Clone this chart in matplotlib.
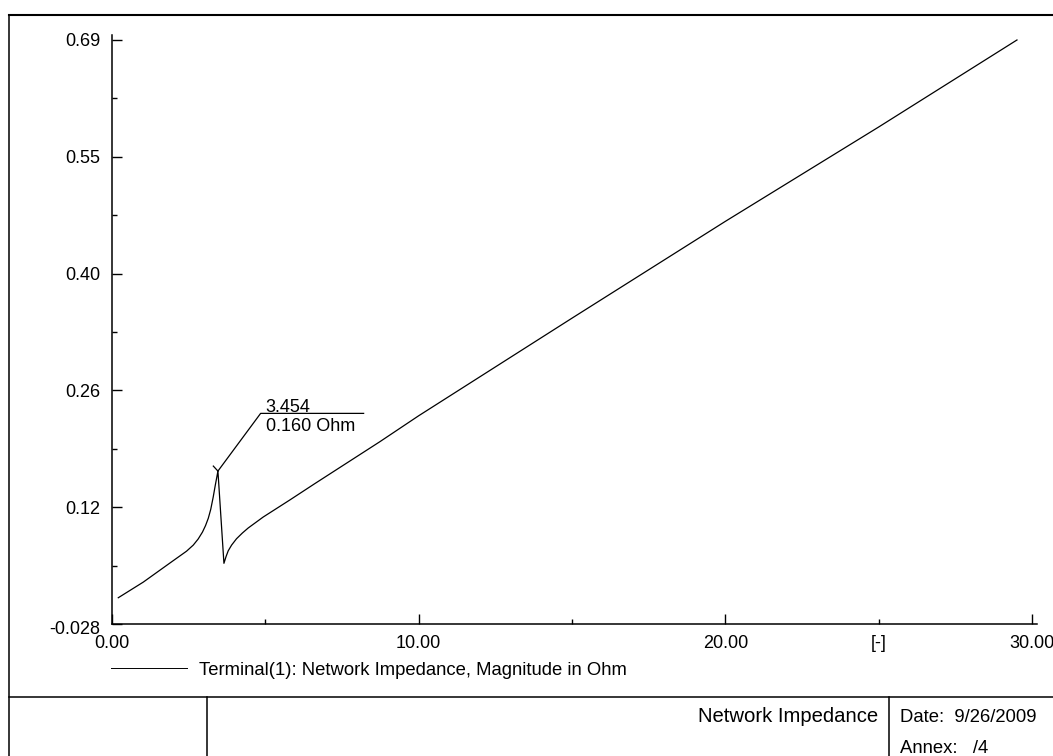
import numpy as np
import matplotlib
matplotlib.use("Agg")
import matplotlib.pyplot as plt
from matplotlib.ticker import FixedLocator, FixedFormatter
from matplotlib.transforms import ScaledTranslation

plt.rcParams['font.family'] = ['Liberation Sans', 'DejaVu Sans']
plt.rcParams['font.size'] = 13

# Harmonic order vs. network impedance magnitude (Ohm)
order = [0.205, 1.02, 1.89, 2.43, 2.65, 2.81, 2.95, 3.05, 3.14, 3.22,
         3.30, 3.37, 3.42, 3.454, 3.65, 3.72, 3.79, 3.90, 4.06, 4.25,
         4.44, 4.93, 5.80, 6.61, 8.73, 10.0, 15.0, 20.0, 25.0, 29.51]
impedance = [0.0043, 0.0235, 0.047, 0.0615, 0.069, 0.0765, 0.085, 0.093, 0.102, 0.113,
             0.128, 0.143, 0.153, 0.160, 0.0466, 0.055, 0.062, 0.069, 0.0768, 0.0838,
             0.0900, 0.1035, 0.1245, 0.1445, 0.196, 0.228, 0.348, 0.467, 0.583, 0.69]

y_tick_values = [-0.028, 0.1156, 0.2592, 0.4028, 0.5464, 0.69]
y_tick_labels = ['-0.028', '0.12', '0.26', '0.40', '0.55', '0.69']
x_tick_values = [0, 10, 20, 30]
x_tick_labels = ['0.00', '10.00', '20.00', '30.00']
x_minor_values = [5, 15, 25]
x_minor_labels = ['', '', '[-]']

peak_order = 3.454
peak_value = 0.160
peak_labels = ['3.454', '0.160 Ohm']
legend_label = 'Terminal(1): Network Impedance, Magnitude in Ohm'
title_text = 'Network Impedance'
date_text = 'Date:  9/26/2009'
annex_text = 'Annex:   /4'

W, H = 1053, 756
fig = plt.figure(figsize=(W / 100, H / 100), dpi=100)

# page frame and title block, in pixel coordinates
bg = fig.add_axes([0, 0, 1, 1], zorder=0)
bg.set_xlim(0, W)
bg.set_ylim(H, 0)
bg.axis('off')
bg.plot([9, W], [15, 15], color='black', lw=1.5)
bg.plot([9, 9], [15, H], color='black', lw=1.1)
bg.plot([9, W], [697, 697], color='black', lw=1.1)
bg.plot([206.5, 206.5], [697, H], color='black', lw=1.1)
bg.plot([889, 889], [697, H], color='black', lw=1.1)
bg.text(878, 721.7, title_text, ha='right', va='baseline', fontsize=14.6)
bg.text(900, 721.5, date_text, ha='left', va='baseline', fontsize=13.3)
bg.text(900, 753.3, annex_text, ha='left', va='baseline', fontsize=13.3)

# legend entry
bg.plot([111, 187], [668, 668], color='black', lw=0.7)
bg.text(199, 675, legend_label, ha='left', va='baseline', fontsize=13.3)

# plot area
ax = fig.add_axes([112 / W, (H - 624) / H, 924.6 / W, 588.9 / H], zorder=1)
ax.patch.set_alpha(0)
ax.plot(order, impedance, color='black', lw=0.9)
ax.set_xlim(0, 30.15)
ax.set_ylim(-0.028, 0.696)

for s in ['top', 'right']:
    ax.spines[s].set_visible(False)
for s in ['left', 'bottom']:
    ax.spines[s].set_linewidth(1.1)

ax.xaxis.set_major_locator(FixedLocator(x_tick_values))
ax.xaxis.set_major_formatter(FixedFormatter(x_tick_labels))
ax.xaxis.set_minor_locator(FixedLocator(x_minor_values))
ax.xaxis.set_minor_formatter(FixedFormatter(x_minor_labels))

ax.yaxis.set_major_locator(FixedLocator(y_tick_values))
ax.yaxis.set_major_formatter(FixedFormatter([''] + y_tick_labels[1:]))
y_minor = [(a + b) / 2 for a, b in zip(y_tick_values[:-1], y_tick_values[1:])]
ax.yaxis.set_minor_locator(FixedLocator(y_minor))

ax.tick_params(which='both', direction='in', width=1.0, labelsize=13)
ax.tick_params(which='major', length=7.2)
ax.tick_params(which='minor', length=3.6)
ax.tick_params(axis='x', which='both', pad=8.0)
ax.tick_params(axis='y', which='both', pad=8.6)

# lowest y value, nudged down to clear the x labels
ax.annotate(y_tick_labels[0], xy=(0, y_tick_values[0]),
            xycoords=('axes fraction', 'data'),
            xytext=(-8.6, -2.2), textcoords='offset points',
            ha='right', va='center_baseline', fontsize=13)

# peak marker with leader and value readout (offsets in inches from the peak)
anchor = fig.dpi_scale_trans + ScaledTranslation(peak_order, peak_value, ax.transData)
ax.plot([0, 0.427, 1.457], [0, 0.577, 0.577], color='black', lw=0.9,
        transform=anchor, clip_on=False)
ax.plot([0, -0.046], [0, 0.05], color='black', lw=0.9,
        transform=anchor, clip_on=False)
ax.text(0.477, 0.59, peak_labels[0], transform=anchor, ha='left', va='baseline', fontsize=13)
ax.text(0.477, 0.40, peak_labels[1], transform=anchor, ha='left', va='baseline', fontsize=13)

fig.savefig('out.png', dpi=100)
